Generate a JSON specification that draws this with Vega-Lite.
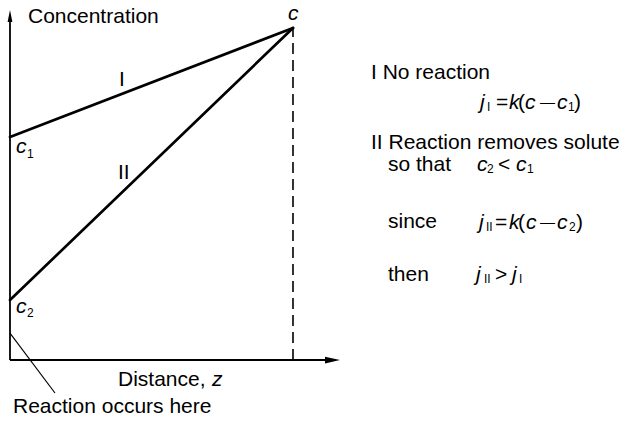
{
  "$schema": "https://vega.github.io/schema/vega-lite/v6.json",
  "width": 626,
  "height": 430,
  "autosize": {"type": "fit", "contains": "padding"},
  "padding": 0,
  "background": "white",
  "config": {"view": {"stroke": null}, "text": {"font": "Liberation Sans", "color": "black"}},
  "datasets": {
    "axes": [
      {"z": 0, "c": 0, "z2": 0, "c2": 103.61},
      {"z": 0, "c": 0, "z2": 114.13, "c2": 0}
    ],
    "profiles": [
      {"z": 0, "c": 67.17, "z2": 100, "c2": 100, "case": "I"},
      {"z": 0, "c": 18.07, "z2": 100, "c2": 100, "case": "II"}
    ],
    "boundary": [{"z": 100, "c": 0, "z2": 100, "c2": 100}],
    "pointer": [{"z": 0, "c": 8.13, "z2": 15.9, "c2": -9.94}],
    "arrowUp": [{"z": 0, "c": 103.61}],
    "arrowRight": [{"z": 113.96, "c": 0}],
    "normal": [
      {"z": 6.36, "c": 103.31, "t": "Concentration"},
      {"z": 38.16, "c": -6.02, "t": "Distance,"},
      {"z": 1.06, "c": -14.16, "t": "Reaction occurs here"},
      {"z": 38.52, "c": 84.34, "t": "I"},
      {"z": 38.16, "c": 56.33, "t": "II"},
      {"z": 127.56, "c": 86.45, "t": "I No reaction"},
      {"z": 127.56, "c": 65.36, "t": "II Reaction removes solute"},
      {"z": 133.57, "c": 58.73, "t": "so that"},
      {"z": 133.57, "c": 41.57, "t": "since"},
      {"z": 133.57, "c": 25.6, "t": "then"},
      {"z": 171.73, "c": 77.41, "t": "="},
      {"z": 179.51, "c": 77.41, "t": "("},
      {"z": 199.29, "c": 77.41, "t": ")"},
      {"z": 172.44, "c": 58.73, "t": "<"},
      {"z": 171.38, "c": 41.27, "t": "="},
      {"z": 179.51, "c": 41.27, "t": "("},
      {"z": 200.0, "c": 41.27, "t": ")"},
      {"z": 171.38, "c": 25.6, "t": ">"}
    ],
    "dashes": [
      {"z": 187.28, "c": 77.41, "t": "—"},
      {"z": 187.28, "c": 41.27, "t": "—"}
    ],
    "italic": [
      {"z": 98.23, "c": 104.22, "t": "c"},
      {"z": 2.12, "c": 64.16, "t": "c"},
      {"z": 2.12, "c": 15.96, "t": "c"},
      {"z": 71.38, "c": -6.02, "t": "z"},
      {"z": 166.08, "c": 77.41, "t": "j"},
      {"z": 176.33, "c": 77.41, "t": "k"},
      {"z": 181.98, "c": 77.41, "t": "c"},
      {"z": 193.29, "c": 77.41, "t": "c"},
      {"z": 165.02, "c": 58.73, "t": "c"},
      {"z": 178.8, "c": 58.73, "t": "c"},
      {"z": 165.72, "c": 41.27, "t": "j"},
      {"z": 176.33, "c": 41.27, "t": "k"},
      {"z": 182.33, "c": 41.27, "t": "c"},
      {"z": 193.29, "c": 41.27, "t": "c"},
      {"z": 164.66, "c": 25.6, "t": "j"},
      {"z": 177.39, "c": 25.6, "t": "j"}
    ],
    "subscripts": [
      {"z": 6.01, "c": 62.05, "t": "1"},
      {"z": 6.01, "c": 14.16, "t": "2"},
      {"z": 168.55, "c": 76.2, "t": "I"},
      {"z": 197.17, "c": 76.2, "t": "1"},
      {"z": 168.55, "c": 57.53, "t": "2"},
      {"z": 182.69, "c": 57.53, "t": "1"},
      {"z": 168.2, "c": 40.06, "t": "II"},
      {"z": 197.53, "c": 40.06, "t": "2"},
      {"z": 167.49, "c": 24.4, "t": "II"},
      {"z": 179.86, "c": 24.4, "t": "I"}
    ]
  },
  "encoding": {
    "x": {"field": "z", "type": "quantitative", "scale": {"domain": [-3.53, 217.67], "nice": false, "zero": false}, "axis": null},
    "y": {"field": "c", "type": "quantitative", "scale": {"domain": [-21.08, 108.43], "nice": false, "zero": false}, "axis": null}
  },
  "layer": [
    {
      "data": {"name": "axes"},
      "mark": {"type": "rule", "color": "black", "strokeWidth": 1.8},
      "encoding": {"x2": {"field": "z2"}, "y2": {"field": "c2"}}
    },
    {
      "data": {"name": "boundary"},
      "mark": {"type": "rule", "color": "black", "strokeWidth": 1.6, "strokeDash": [11, 6]},
      "encoding": {"x2": {"field": "z2"}, "y2": {"field": "c2"}}
    },
    {
      "data": {"name": "profiles"},
      "mark": {"type": "rule", "color": "black", "strokeWidth": 2.7, "strokeCap": "round"},
      "encoding": {"x2": {"field": "z2"}, "y2": {"field": "c2"}}
    },
    {
      "data": {"name": "pointer"},
      "mark": {"type": "rule", "color": "black", "strokeWidth": 1.2},
      "encoding": {"x2": {"field": "z2"}, "y2": {"field": "c2"}}
    },
    {
      "data": {"name": "arrowUp"},
      "mark": {"type": "point", "filled": true, "color": "black", "opacity": 1, "size": 144, "shape": "M0,-1L0.4,1L-0.4,1Z"}
    },
    {
      "data": {"name": "arrowRight"},
      "mark": {"type": "point", "filled": true, "color": "black", "opacity": 1, "size": 225, "shape": "M1,0L-1,0.45L-1,-0.45Z"}
    },
    {
      "data": {"name": "normal"},
      "mark": {"type": "text", "align": "left", "baseline": "middle", "fontSize": 21},
      "encoding": {"text": {"field": "t"}}
    },
    {
      "data": {"name": "dashes"},
      "mark": {"type": "text", "align": "left", "baseline": "middle", "fontSize": 15, "dy": -1},
      "encoding": {"text": {"field": "t"}}
    },
    {
      "data": {"name": "italic"},
      "mark": {"type": "text", "align": "left", "baseline": "middle", "fontSize": 21, "fontStyle": "italic"},
      "encoding": {"text": {"field": "t"}}
    },
    {
      "data": {"name": "subscripts"},
      "mark": {"type": "text", "align": "left", "baseline": "middle", "fontSize": 12},
      "encoding": {"text": {"field": "t"}}
    }
  ]
}
